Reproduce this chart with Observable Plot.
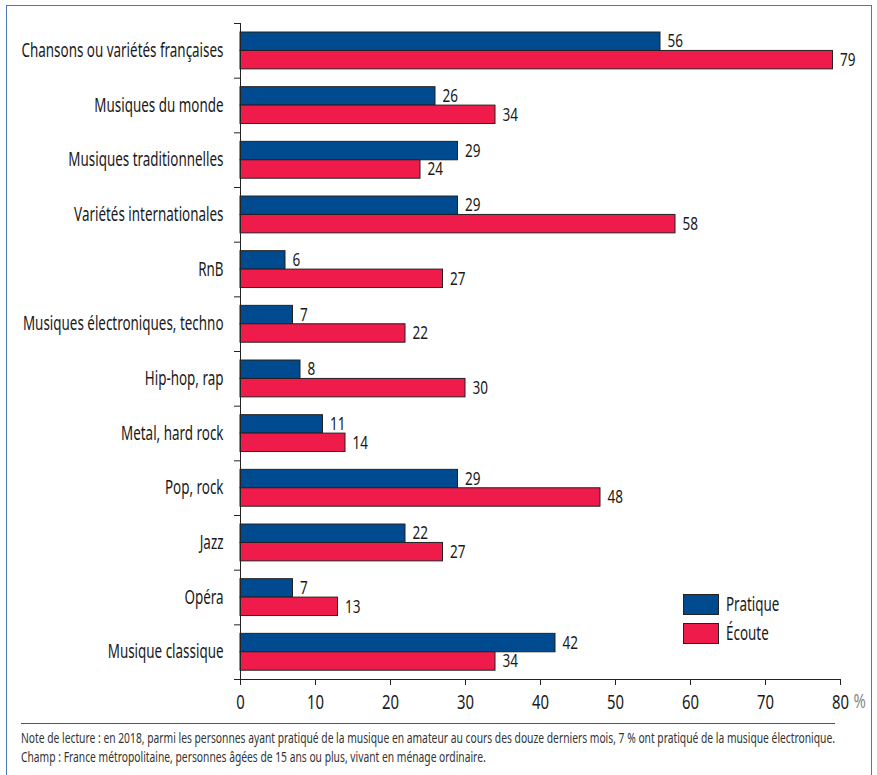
<!DOCTYPE html>
<html>
<head>
<meta charset="utf-8">
<script src="https://cdn.jsdelivr.net/npm/d3@7"></script>
<script src="https://cdn.jsdelivr.net/npm/@observablehq/plot@0.6"></script>
<style>
  html, body { margin: 0; padding: 0; background: #fff; overflow: hidden; }
  #wrap { position: relative; width: 877px; height: 775px; overflow: hidden;
          font-family: "Noto Sans", sans-serif; color: #1a1a1a; }
  #frame { position: absolute; left: 6px; top: 5px; width: 866px; height: 790px;
           border: 1.5px solid #4a78b8; box-sizing: border-box; }
  #chart { position: absolute; left: 0; top: 0; }
  #legend { position: absolute; left: 683px; top: 593px; font-size: 19px; }
  .li { display: flex; align-items: center; height: 22px; margin-bottom: 7px; }
  .sw { width: 36px; height: 21px; border: 1px solid #222; box-sizing: border-box; margin-right: 7px; flex: none; }
  .lt { display: inline-block; transform-origin: left center; white-space: nowrap; }
  #rule { position: absolute; left: 21px; top: 723px; width: 814px; border-top: 1px solid #555; }
  #note { position: absolute; left: 21px; top: 729px; font-size: 13.5px; line-height: 19px; color: #333; white-space: nowrap; transform-origin: left top; }
</style>
</head>
<body>
<div id="wrap">
  <div id="frame"></div>
  <div id="chart"></div>
  <div id="legend"></div>
  <div id="rule"></div>
  <div id="note"><span id="n1">Note de lecture : en 2018, parmi les personnes ayant pratiqué de la musique en amateur au cours des douze derniers mois, 7 % ont pratiqué de la musique électronique.</span><br><span>Champ : France métropolitaine, personnes âgées de 15 ans ou plus, vivant en ménage ordinaire.</span></div>
</div>
<script>
const categories = [
  "Chansons ou variétés françaises",
  "Musiques du monde",
  "Musiques traditionnelles",
  "Variétés internationales",
  "RnB",
  "Musiques électroniques, techno",
  "Hip-hop, rap",
  "Metal, hard rock",
  "Pop, rock",
  "Jazz",
  "Opéra",
  "Musique classique"
];
const pratique = [56, 26, 29, 29, 6, 7, 8, 11, 29, 22, 7, 42];
const ecoute   = [79, 34, 24, 58, 27, 22, 30, 14, 48, 27, 13, 34];
const seriesNames = ["Pratique", "Écoute"];
const seriesColors = ["#004a8f", "#ee1b4b"];
const xTicks = [0, 10, 20, 30, 40, 50, 60, 70, 80];

const FONT = '"Noto Sans", sans-serif';
const series = [pratique, ecoute];
const rows = categories.flatMap((c, i) => series.map((vals, k) => ({cat: c, i, k, series: seriesNames[k], value: vals[i]})));
const pad = 0.165, h = 0.337; // band fraction layout

const CAT_FS = 19, VAL_FS = 18, TICK_FS = 19.5;
// horizontal condensation factors (reference uses a condensed face)
const ctx = document.createElement("canvas").getContext("2d");
function mw(s, fs) { ctx.font = `${fs}px "Noto Sans"`; return ctx.measureText(s).width; }
const F_CAT = 202 / mw(categories[0], CAT_FS);
const F_VAL = 15.5 / mw("56", VAL_FS);
const F_TICK = 17 / mw("80", TICK_FS);

const chart = Plot.plot({
  width: 877, height: 715,
  marginTop: 23, marginBottom: 36, marginLeft: 240, marginRight: 37,
  style: {fontFamily: FONT, fontSize: "16px", color: "#1a1a1a", background: "transparent", overflow: "visible"},
  x: {domain: [0, 80]},
  y: {domain: [0, categories.length], reverse: true},
  color: {domain: seriesNames, range: seriesColors},
  marks: [
    Plot.rect(rows, {x1: 0, x2: "value", y1: d => d.i + pad + d.k * h, y2: d => d.i + pad + (d.k + 1) * h,
      fill: "series", stroke: "#222", strokeWidth: 1}),
    Plot.text(rows, {x: "value", y: d => d.i + pad + (d.k + 0.5) * h, text: d => String(d.value),
      dx: 7, textAnchor: "start", fontSize: VAL_FS, fill: "#1a1a1a"}),
    Plot.ruleX([0], {y1: 0, y2: categories.length, stroke: "#222", strokeWidth: 1}),
    Plot.ruleY(d3.range(categories.length + 1), {x1: -0.8, x2: 0, stroke: "#222", strokeWidth: 1}),
    Plot.ruleY([categories.length], {x1: 0, x2: 80, stroke: "#222", strokeWidth: 1}),
    Plot.axisY({ticks: d3.range(categories.length).map(i => i + 0.5), tickFormat: v => categories[Math.floor(v)],
      tickSize: 0, tickPadding: 17, fontSize: CAT_FS, label: null, fill: "#1a1a1a"}),
    Plot.axisX({ticks: xTicks, tickSize: 6, tickPadding: 10, fontSize: TICK_FS, label: null, stroke: "#222", fill: "#1a1a1a"}),
    Plot.text(["%"], {x: 80, y: categories.length, dx: 13, dy: 22, text: d => d, textAnchor: "start", fill: "#888", fontSize: TICK_FS})
  ]
});
document.getElementById("chart").appendChild(chart);

chart.querySelectorAll("text").forEach(t => {
  const L = t.getComputedTextLength();
  if (!(L > 0)) return;
  const g = t.closest("g");
  const role = g ? (g.getAttribute("aria-label") || "") : "";
  let f = F_VAL;
  if (role.startsWith("y-axis")) f = F_CAT;
  else if (role.startsWith("x-axis")) f = F_TICK;
  else if (t.textContent === "%") f = F_TICK;
  t.setAttribute("textLength", (L * f).toFixed(2));
  t.setAttribute("lengthAdjust", "spacingAndGlyphs");
});

const legend = document.getElementById("legend");
seriesNames.forEach((name, k) => {
  const li = document.createElement("div");
  li.className = "li";
  const sw = document.createElement("div");
  sw.className = "sw";
  sw.style.background = seriesColors[k];
  const t = document.createElement("span");
  t.className = "lt";
  t.textContent = name;
  t.style.transform = `scaleX(${F_CAT})`;
  li.appendChild(sw); li.appendChild(t);
  legend.appendChild(li);
});

const note = document.getElementById("note");
const n1w = document.getElementById("n1").getBoundingClientRect().width;
note.style.transform = `scaleX(${814 / n1w})`;
</script>
</body>
</html>
